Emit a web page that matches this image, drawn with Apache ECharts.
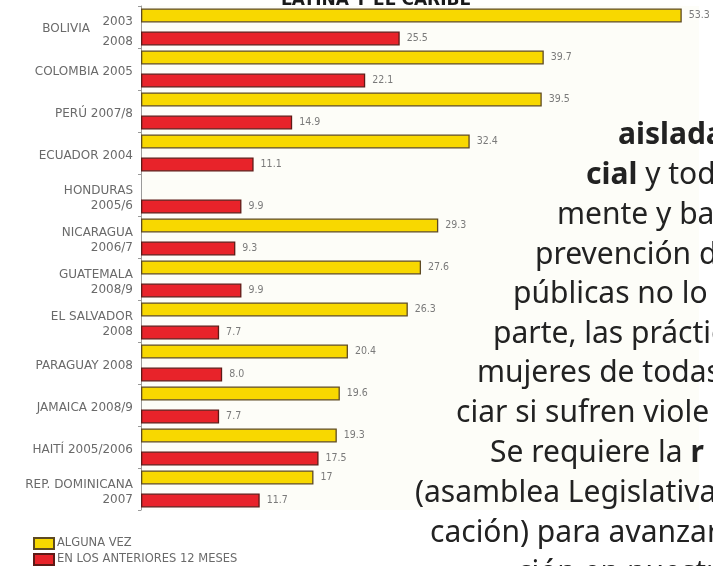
<!DOCTYPE html>
<html>
<head>
<meta charset="utf-8">
<script src="https://cdn.jsdelivr.net/npm/echarts@6/dist/echarts.min.js"></script>
<style>
html,body{margin:0;padding:0;background:#ffffff;}
#chart{width:713px;height:566px;}
</style>
</head>
<body>
<div id="chart"></div>
<script>
// ---- data ----
var categories = ['BOLIVIA', 'COLOMBIA 2005', 'PERÚ 2007/8', 'ECUADOR 2004', 'HONDURAS\n2005/6',
  'NICARAGUA\n2006/7', 'GUATEMALA\n2008/9', 'EL SALVADOR\n2008', 'PARAGUAY 2008',
  'JAMAICA 2008/9', 'HAITÍ 2005/2006', 'REP. DOMINICANA\n2007'];
var boliviaYears = ['2003', '2008'];
var seriesNames = ['ALGUNA VEZ', 'EN LOS ANTERIORES 12 MESES'];
var algunaVez = ['53.3', '39.7', '39.5', '32.4', null, '29.3', '27.6', '26.3', '20.4', '19.6', '19.3', '17'];
var anteriores12 = ['25.5', '22.1', '14.9', '11.1', '9.9', '9.3', '9.9', '7.7', '8.0', '7.7', '17.5', '11.7'];
var titleText = 'LATINA Y EL CARIBE';
var sideLines = [
  '{b|aislada}',
  '{b|cial} y tod',
  'mente y ba',
  'prevención d',
  'públicas no lo',
  'parte, las prácticas',
  'mujeres de todas',
  'ciar si sufren viole',
  'Se requiere la {b|r}',
  '(asamblea Legislativa',
  'cación) para avanzar',
  'ción en nuestr'
];

function toData(arr) {
  return arr.map(function (v) {
    return v === null ? { value: null } : { value: parseFloat(v), txt: v };
  });
}

var chart = echarts.init(document.getElementById('chart'), null, { renderer: 'canvas' });

var labelFont = 'DejaVu Sans Condensed, DejaVu Sans, sans-serif';
var catFont = 'DejaVu Sans, sans-serif';

var sideX = [618, 586, 557, 535, 513, 493, 477, 456, 490, 415, 430, 517];
var sideY = [135, 175, 215, 255, 294, 334, 373, 413, 453, 493, 533, 573];
var graphics = [{
  type: 'text',
  x: 376, y: 9,
  z: 10,
  style: {
    text: titleText,
    align: 'center',
    verticalAlign: 'bottom',
    font: 'bold 17px DejaVu Sans, sans-serif',
    fill: '#1a1a1a'
  }
}];
sideLines.forEach(function (t, i) {
  graphics.push({
    type: 'text',
    x: sideX[i], y: sideY[i],
    style: {
      text: t,
      align: 'left',
      verticalAlign: 'middle',
      font: '30px Noto Sans, sans-serif',
      fill: '#222222',
      rich: {
        b: { fontWeight: 'bold', fontSize: 30, fontFamily: 'Noto Sans, sans-serif', fill: '#222222' }
      }
    }
  });
});

function barSeries(name, arr, color, border) {
  return {
    name: name,
    type: 'bar',
    data: toData(arr),
    barWidth: 14,
    barGap: '64%',
    itemStyle: { color: color, borderColor: border, borderWidth: 1.3 },
    label: {
      show: true,
      position: 'right',
      distance: 7,
      color: '#7a7a7a',
      fontSize: 10.5,
      fontFamily: labelFont,
      formatter: function (p) { return p.data.txt || ''; }
    }
  };
}

var option = {
  backgroundColor: '#ffffff',
  animation: false,
  grid: {
    left: 141, right: 14, top: 6, bottom: 56,
    show: true, backgroundColor: '#fdfdf8', borderWidth: 0
  },
  legend: {
    orient: 'vertical',
    left: 33, top: 537,
    padding: 0,
    itemWidth: 20, itemHeight: 11, itemGap: 3,
    icon: 'rect',
    selectedMode: false,
    textStyle: { color: '#6a6a6a', fontSize: 11.5, fontFamily: catFont, padding: [0, 0, 0, -2] },
    data: seriesNames
  },
  xAxis: {
    type: 'value',
    min: 0, max: 55,
    show: false
  },
  yAxis: {
    type: 'category',
    inverse: true,
    data: categories,
    axisLine: { show: true, lineStyle: { color: '#9a9a9a', width: 1 } },
    axisTick: { show: true, length: 3, lineStyle: { color: '#9a9a9a' } },
    axisLabel: {
      margin: 8,
      color: '#6a6a6a',
      fontSize: 12,
      fontFamily: catFont,
      lineHeight: 15,
      padding: [6, 0, 0, 0],
      formatter: function (v) {
        if (v === 'BOLIVIA') {
          return '{y1|' + boliviaYears[0] + '}\n{n|' + v + '}\n{y|' + boliviaYears[1] + '}';
        }
        return v;
      },
      rich: {
        y1: { fontSize: 12, fontFamily: catFont, color: '#6a6a6a', lineHeight: 11, padding: [6, 0, 0, 0] },
        y: { fontSize: 12, fontFamily: catFont, color: '#6a6a6a', lineHeight: 13, padding: [2, 0, 0, 0] },
        n: { fontSize: 12, fontFamily: catFont, color: '#6a6a6a', lineHeight: 10, padding: [0, 43, 0, 0] }
      }
    }
  },
  series: [
    barSeries(seriesNames[0], algunaVez, '#f8d800', '#5e4a22'),
    barSeries(seriesNames[1], anteriores12, '#e8232a', '#5e1a16')
  ],
  graphic: graphics
};
chart.setOption(option);
</script>
</body>
</html>
